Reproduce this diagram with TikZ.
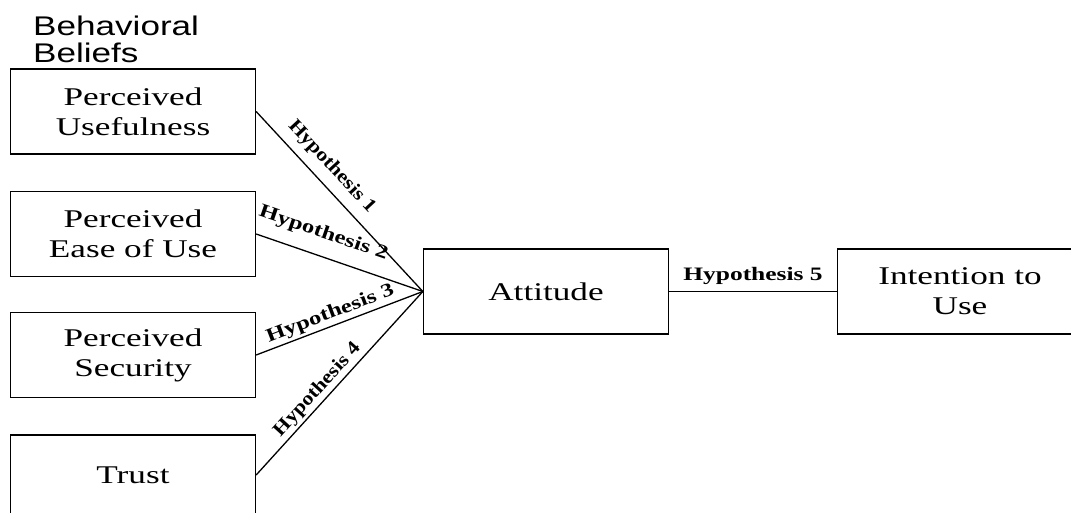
\documentclass[tikz,border=0pt]{standalone}
\usepackage{fontspec}
\usepackage{graphicx}
\setmainfont{Liberation Serif}
\newfontfamily\beliefsfont{Liberation Sans}
% the reference is drawn wide: stretch each line of text sideways
\newcommand{\wide}[2][1.38]{\scalebox{#1}[1]{#2}}
\tikzset{
    construct/.style = {
        draw,
        shape=rectangle,
        minimum height=85pt,
        minimum width=245pt,
        line width=1.3pt,
        align=center,
        font=\fontsize{25.5}{30}\selectfont
    },
    beliefs/.style = {
        anchor=north west,
        align=left,
        inner sep=0pt,
        font=\beliefsfont\fontsize{27}{27}\selectfont
    },
    hypothesis/.style = {
        sloped,
        inner sep=0pt,
        font=\fontsize{19}{22}\selectfont\bfseries
    },
    link/.style = {
        draw,
        line width=1.3pt
    },
}

\begin{document}
\begin{tikzpicture}[x=1pt,y=1pt]
            \clip (0,0) rectangle (1071,512);
            \node[beliefs] (beliefs) at (33,496) {\wide[1.3]{Behavioral}\\\wide[1.3]{Beliefs}};
            \node[construct] (usefulness) at (133,400.5) {\wide{Perceived}\\\wide{Usefulness}};
            \node[construct] (ease) at (133,278) {\wide{Perceived}\\\wide{Ease of Use}};
            \node[construct] (security) at (133,157) {\wide{Perceived}\\\wide{Security}};
            \node[construct, minimum height=80pt] (trust) at (133,37) {\wide{Trust}};
            \node[construct] (attitude) at (546,220.5) {\wide{Attitude}};
            \node[construct] (intention) at (960,220.5) {\wide{Intention to}\\\wide{Use}};

            \path[link] (usefulness.east) -- (attitude.west) node [hypothesis, pos=0.375, above=8.5pt] {\wide[1.15]{Hypothesis 1}};
            \path[link] (ease.east) -- (attitude.west) node [hypothesis, pos=0.36, above=13pt] {\wide[1.3]{Hypothesis 2}};
            \path[link] (security.east) -- (attitude.west) node [hypothesis, pos=0.47, above=2.5pt] {\wide[1.3]{Hypothesis 3}};
            \path[link] (trust.east) -- (attitude.west) node [hypothesis, pos=0.42, above=2.5pt] {\wide[1.15]{Hypothesis 4}};

            \path[link] (attitude.east) -- (intention.west) node [hypothesis, midway, above=6pt] {\wide[1.34]{Hypothesis 5}};

        \end{tikzpicture}
\end{document}
